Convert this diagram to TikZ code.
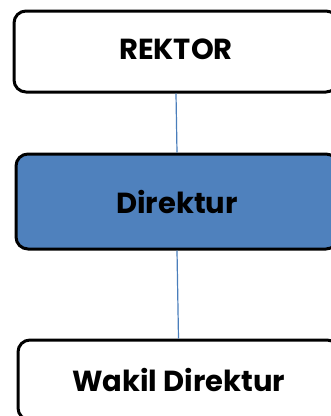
\documentclass[tikz,border=0pt]{standalone}
\usepackage{fontspec}
\setmainfont{Poppins}
\definecolor{boxblue}{HTML}{4F81BD}
\definecolor{linkblue}{HTML}{4A7EBB}
\begin{document}
\begin{tikzpicture}[x=1pt,y=-1pt,
  orgbox/.style={draw=black, line width=3pt, rounded corners=12pt, fill=white,
    font=\bfseries\fontsize{29}{32}\selectfont, align=center, inner sep=0pt},
  link/.style={draw=linkblue, line width=1.2pt}]
\useasboundingbox (0,0) rectangle (331,416);
\clip (0,0) rectangle (331,416);
\node[orgbox, minimum width=324pt, minimum height=81pt, text depth=4pt] (rektor) at (176,51.5) {REKTOR};
\node[orgbox, fill=boxblue, minimum width=322pt, minimum height=95pt] (direktur) at (177,201.5) {Direktur};
\node[orgbox, minimum width=321pt, minimum height=80pt] (wakil) at (178.5,380) {Wakil Direktur};
\draw[link] (rektor.south) -- (direktur.north);
\draw[link] (direktur.south) -- (wakil.north);
\end{tikzpicture}
\end{document}
